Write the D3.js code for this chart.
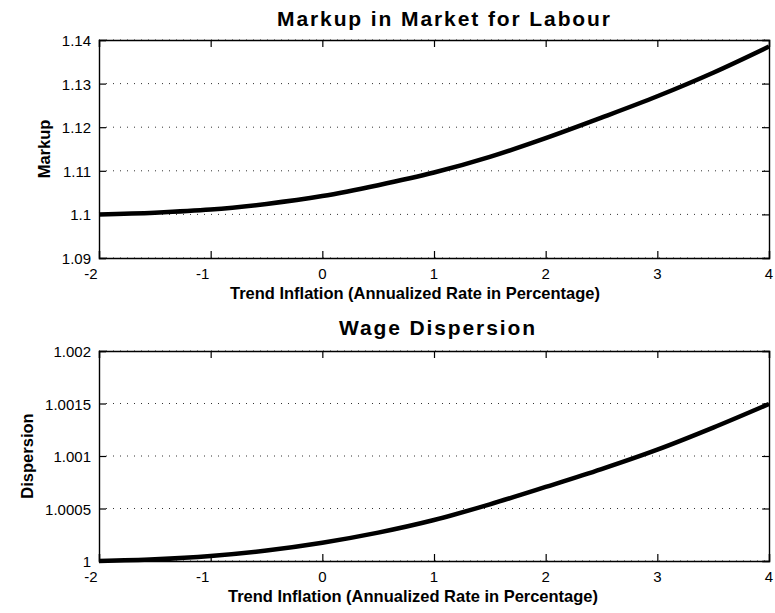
<!DOCTYPE html>
<html><head><meta charset="utf-8">
<script src="https://cdn.jsdelivr.net/npm/d3@7"></script>
<style>body{margin:0;background:#fff}svg{display:block}</style>
</head><body>
<script>
// ---- data ----
const inflation = [-2,-1.5,-1,-0.5,0,0.5,1,1.5,2,2.5,3,3.5,4];
const markup = [1.1000,1.1004,1.1011,1.1024,1.1042,1.1067,1.1096,1.1132,1.1175,1.1222,1.1271,1.1325,1.1385];
const dispersion = [1.000000,1.000016,1.000048,1.000100,1.000174,1.000270,1.000390,1.000540,1.000705,1.000875,1.001060,1.001270,1.001495];
const xTicks = [-2,-1,0,1,2,3,4];
const markupTicks = [1.09,1.10,1.11,1.12,1.13,1.14];
const markupTickLabels = ["1.09","1.1","1.11","1.12","1.13","1.14"];
const dispTicks = [1,1.0005,1.001,1.0015,1.002];
const dispTickLabels = ["1","1.0005","1.001","1.0015","1.002"];

const W = 775, H = 613;
const svg = d3.select("body").append("svg").attr("width", W).attr("height", H);
const font = "'Liberation Sans', Arial, sans-serif";

function panel(cfg) {
  const x = d3.scaleLinear().domain([-2, 4]).range([99, 769]);
  const y = d3.scaleLinear().domain(cfg.yDomain).range([cfg.bottom, cfg.top]);
  const g = svg.append("g");

  // grid
  g.append("g").selectAll("line").data(cfg.yTicks).join("line")
    .attr("x1", x.range()[0]).attr("x2", x.range()[1])
    .attr("y1", d => y(d)).attr("y2", d => y(d))
    .attr("stroke", "#333").attr("stroke-width", 1)
    .attr("stroke-dasharray", "1,6");

  // axes with inward ticks
  const axB = g.append("g").attr("transform", `translate(0,${cfg.bottom})`)
    .call(d3.axisBottom(x).tickValues(xTicks).tickSize(-7).tickFormat(""));
  const axT = g.append("g").attr("transform", `translate(0,${cfg.top})`)
    .call(d3.axisTop(x).tickValues(xTicks).tickSize(-7).tickFormat(""));
  const axL = g.append("g").attr("transform", `translate(${x.range()[0]},0)`)
    .call(d3.axisLeft(y).tickValues(cfg.yTicks).tickSize(-7).tickFormat(""));
  const axR = g.append("g").attr("transform", `translate(${x.range()[1]},0)`)
    .call(d3.axisRight(y).tickValues(cfg.yTicks).tickSize(-7).tickFormat(""));
  [axB, axT, axL, axR].forEach(a => {
    a.select(".domain").attr("stroke", "#000").attr("stroke-width", 1.4);
    a.selectAll(".tick line").attr("stroke", "#000").attr("stroke-width", 1.2);
  });

  // x tick labels
  g.append("g").selectAll("text").data(xTicks).join("text")
    .attr("x", d => x(d) + (d < 0 ? -8 : 0)).attr("y", cfg.bottom + 21)
    .attr("text-anchor", "middle").attr("font-family", font).attr("font-size", 15)
    .text(d => String(d));

  // y tick labels
  g.append("g").selectAll("text").data(cfg.yTicks).join("text")
    .attr("x", 91).attr("y", d => y(d) + 6)
    .attr("text-anchor", "end").attr("font-family", font).attr("font-size", 15)
    .text((d, i) => cfg.yTickLabels[i]);

  // line
  const line = d3.line().x((d, i) => x(inflation[i])).y(d => y(d)).curve(d3.curveMonotoneX);
  g.append("path").datum(cfg.values).attr("d", line)
    .attr("fill", "none").attr("stroke", "#000").attr("stroke-width", 4.5)
    .attr("stroke-linejoin", "round");

  // title
  g.append("text").attr("x", cfg.titleX).attr("y", cfg.titleY)
    .attr("font-family", font).attr("font-size", 21).attr("font-weight", "bold")
    .attr("textLength", cfg.titleLen).attr("lengthAdjust", "spacing")
    .text(cfg.title);

  // x axis label
  g.append("text").attr("x", cfg.xLabelX).attr("y", cfg.bottom + 41)
    .attr("font-family", font).attr("font-size", 16.5).attr("font-weight", "bold")
    .attr("textLength", 370).attr("lengthAdjust", "spacingAndGlyphs")
    .text("Trend Inflation (Annualized Rate in Percentage)");

  // y axis label
  g.append("text")
    .attr("transform", `translate(${cfg.yLabelX},${(cfg.top + cfg.bottom) / 2}) rotate(-90)`)
    .attr("text-anchor", "middle")
    .attr("font-family", font).attr("font-size", 16.5).attr("font-weight", "bold")
    .text(cfg.yLabel);
}

panel({
  top: 40, bottom: 258, yDomain: [1.09, 1.14],
  yTicks: markupTicks, yTickLabels: markupTickLabels, values: markup,
  title: "Markup in Market for Labour", titleX: 277, titleY: 26, titleLen: 333,
  xLabelX: 230, yLabel: "Markup", yLabelX: 50
});

panel({
  top: 351, bottom: 561, yDomain: [1, 1.002],
  yTicks: dispTicks, yTickLabels: dispTickLabels, values: dispersion,
  title: "Wage Dispersion", titleX: 339, titleY: 335, titleLen: 196,
  xLabelX: 228, yLabel: "Dispersion", yLabelX: 33
});
</script>
</body></html>
